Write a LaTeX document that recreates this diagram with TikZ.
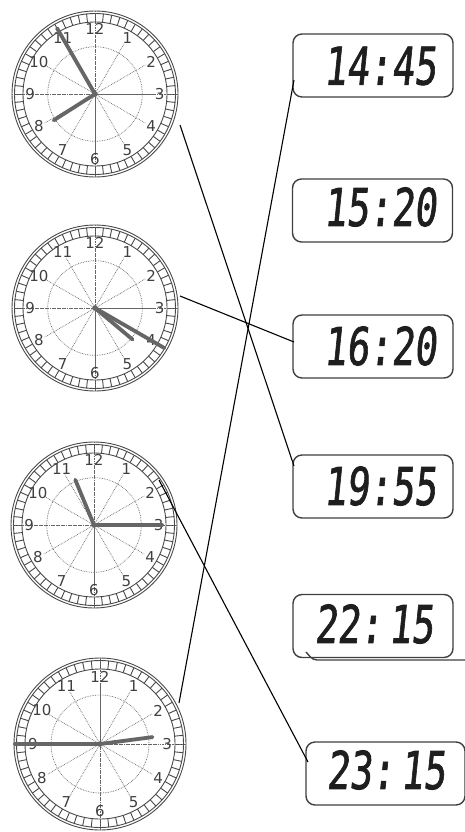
\documentclass[tikz,border=0pt]{standalone}
\usepackage{fontspec}
\setmainfont{DejaVu Sans}
\newfontfamily\lcdfont[FakeSlant=0.14,FakeBold=1.6]{DejaVu Sans Mono}
\definecolor{ringcol}{HTML}{4A4A4A}
\definecolor{numcol}{HTML}{404040}
\definecolor{handcol}{HTML}{666666}
\definecolor{lcdcol}{HTML}{1E1E1E}
\tikzset{
  ring/.style={draw=ringcol, line width=0.9pt},
  hline/.style={draw=ringcol!85, line width=0.7pt, densely dotted},
  num/.style={text=numcol, font=\fontsize{15}{15}\selectfont, inner sep=0pt},
  hand/.style={draw=handcol, line width=3.8pt, line cap=round},
  lcdbox/.style={draw=black!75, line width=1.4pt, rounded corners=9pt, minimum width=160pt, minimum height=63pt, inner sep=0pt},
  lcd/.style={text=lcdcol, inner sep=0pt, font=\lcdfont\fontsize{52}{52}\selectfont},
  link/.style={draw=black, line width=1.1pt}
}
\newcommand\drawclock[8]{%
  \begin{scope}[shift={(#1,#2)}]
    \draw[ring] (0,0) circle ({#3});
    \draw[ring] (0,0) circle ({#3-2.5});
    \draw[ring] (0,0) circle ({#3-11});
    \foreach \a in {0,6,...,354} \draw[ring] (\a:{#3-2.5}) -- (\a:{#3-11});
    \foreach \a in {0,30,...,330} \draw[hline] (0,0) -- (\a:{#3*0.7});
    \draw[hline] (90:{#3}) -- (270:{#3});
    \draw[hline] (0:{#3}) -- (180:{#3});
    \draw[hline] (0,0) circle ({#3*0.57});
    \foreach \k in {1,...,12} \node[num] at ({30*\k-90}:{#3*0.78}) {\k};
    \draw[hand] (0,0) -- ({#4-90}:{#5});
    \draw[hand] (0,0) -- ({#6-90}:{#7});
    \fill[handcol] (0,0) circle (2.8);
    \coordinate (#8) at (0,0);
  \end{scope}}
\begin{document}
\begin{tikzpicture}[x=1pt,y=-1pt]
\useasboundingbox (0,0) rectangle (465,832);
\fill[white] (0,0) rectangle (465,832);
% clocks
\drawclock{95}{94}{83}{237.5}{49}{330}{76}{k1}
\drawclock{95}{308}{83}{130}{49}{120}{80}{k2}
\drawclock{94}{525}{83}{337.5}{49}{90}{68}{k3}
\drawclock{100}{744}{86}{82.5}{53}{270}{85}{k4}
% boxes
\node[lcdbox] (b1) at (373,65.5) {};
\node[lcdbox] (b2) at (372.5,210.5) {};
\node[lcdbox] (b3) at (373,346.5) {};
\node[lcdbox] (b4) at (373,486.5) {};
\node[lcdbox] (b5) at (373,626) {};
\node[lcdbox, minimum width=159pt] (b6) at (385.5,773.5) {};
\draw[draw=black!75, line width=1.4pt, rounded corners=4pt] (306,652) -- (313,660) -- (465,660);
% texts
\node[lcd] (t1) at (380,66) {\scalebox{0.72}[1]{14:45}};
\node[lcd] (t2) at (380,207) {\scalebox{0.72}[1]{15:20}};
\node[lcd] (t3) at (380,346) {\scalebox{0.72}[1]{16:20}};
\node[lcd] (t4) at (380,486) {\scalebox{0.72}[1]{19:55}};
\node[lcd] (t5) at (374,624) {\scalebox{0.72}[1]{22:\,15}};
\node[lcd] (t6) at (386,770) {\scalebox{0.72}[1]{23:\,15}};
% connector ends
\coordinate (s1) at (180,125);
\coordinate (s2) at (180,296);
\coordinate (s3) at (159,480);
\coordinate (s4) at (179,703);
\coordinate (e1) at (294,80);
\coordinate (e3) at (294,342);
\coordinate (e4) at (294,466);
\coordinate (e6) at (308,762);
\draw[link] (s1) -- (e4);
\draw[link] (s2) -- (e3);
\draw[link] (s3) -- (e6);
\draw[link] (s4) -- (e1);
\end{tikzpicture}
\end{document}
